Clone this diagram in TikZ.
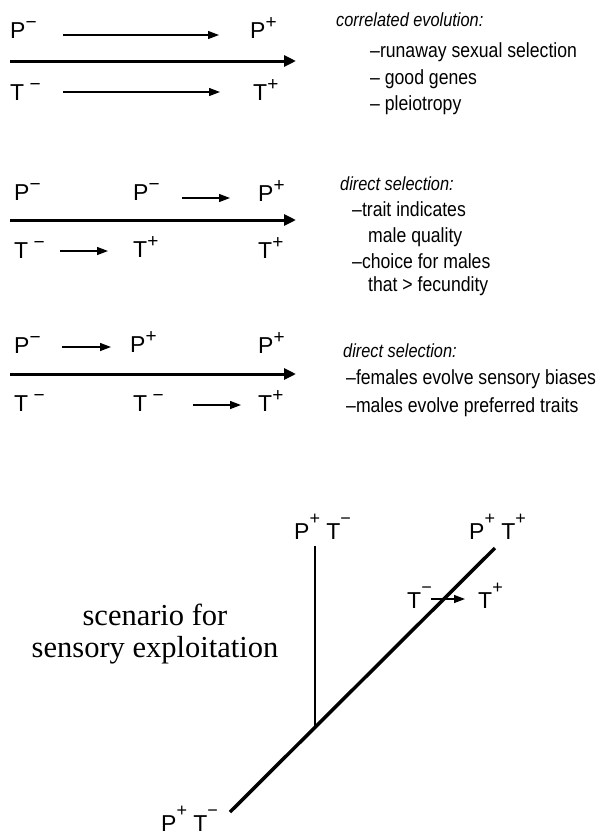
\documentclass[tikz,border=0pt]{standalone}
\usepackage{fontspec}
\usetikzlibrary{arrows.meta}
\newfontfamily\hv[FakeStretch=0.86]{Liberation Sans}
\newfontfamily\hvw{Liberation Sans}
\newfontfamily\tms{Liberation Serif}
\newcommand\hisup[1]{\raisebox{0.42em}{\fontsize{19}{19}\selectfont #1}}
\newcommand\losup[1]{\raisebox{0.62em}{\fontsize{18}{18}\selectfont #1}}
\begin{document}
\begin{tikzpicture}[x=1pt,y=-1pt,
  lab/.style={anchor=base west,inner sep=0pt,font=\hvw\fontsize{23}{24}\selectfont},
  txt/.style={anchor=base west,inner sep=0pt,font=\hv\fontsize{20.5}{22}\selectfont},
  itx/.style={anchor=base west,inner sep=0pt,font=\hv\itshape\fontsize{19}{21}\selectfont},
  small/.style={-{Triangle[length=11pt,width=8pt]},line width=1.3pt},
  main/.style={-{Triangle[length=12pt,width=11pt]},line width=3pt},
  branch/.style={line width=3.5pt},
  stem/.style={line width=2.4pt}]
\useasboundingbox (0,0) rectangle (604,836);
% ---------- panel 1 ----------
\node[lab] (p1a) at (10,38) {P\hisup{−}};
\node[lab] (p1b) at (250,38) {P\hisup{+}};
\node[lab] (t1a) at (10,100) {T\hisup{ −}};
\node[lab] (t1b) at (253,100) {T\hisup{+}};
\coordinate (a1s) at (63,35); \coordinate (a1e) at (219,35);
\coordinate (b1s) at (63,92); \coordinate (b1e) at (220,92);
\coordinate (m1s) at (10,61); \coordinate (m1e) at (296,61);
\draw[small] (a1s) -- (a1e);
\draw[small] (b1s) -- (b1e);
\draw[main] (m1s) -- (m1e);
\node[itx] (h1) at (336,26) {correlated evolution:};
\node[txt] (l11) at (370,57) {–runaway sexual selection};
\node[txt] (l12) at (370,84) {– good genes};
\node[txt] (l13) at (370,110) {– pleiotropy};
% ---------- panel 2 ----------
\node[lab] (p2a) at (14,200) {P\hisup{−}};
\node[lab] (p2b) at (133,200) {P\hisup{−}};
\node[lab] (p2c) at (258,201) {P\hisup{+}};
\node[lab] (t2a) at (14,258) {T\hisup{ −}};
\node[lab] (t2b) at (133,257) {T\hisup{+}};
\node[lab] (t2c) at (258,258) {T\hisup{+}};
\coordinate (a2s) at (182,198); \coordinate (a2e) at (230,198);
\coordinate (b2s) at (60,251); \coordinate (b2e) at (108,251);
\coordinate (m2s) at (10,220); \coordinate (m2e) at (296,220);
\draw[small] (a2s) -- (a2e);
\draw[small] (b2s) -- (b2e);
\draw[main] (m2s) -- (m2e);
\node[itx] (h2) at (340,190) {direct selection:};
\node[txt] (l21) at (352,216) {–trait indicates};
\node[txt] (l22) at (368,242) {male quality};
\node[txt] (l23) at (352,268) {–choice for males};
\node[txt] (l24) at (368,291) {that > fecundity};
% ---------- panel 3 ----------
\node[lab] (p3a) at (14,353) {P\hisup{−}};
\node[lab] (p3b) at (130,352) {P\hisup{+}};
\node[lab] (p3c) at (258,353) {P\hisup{+}};
\node[lab] (t3a) at (14,411) {T\hisup{ −}};
\node[lab] (t3b) at (133,411) {T\hisup{ −}};
\node[lab] (t3c) at (258,411) {T\hisup{+}};
\coordinate (a3s) at (62,347); \coordinate (a3e) at (111,347);
\coordinate (b3s) at (193,405); \coordinate (b3e) at (241,405);
\coordinate (m3s) at (10,374); \coordinate (m3e) at (296,374);
\draw[small] (a3s) -- (a3e);
\draw[small] (b3s) -- (b3e);
\draw[main] (m3s) -- (m3e);
\node[itx] (h3) at (343,357) {direct selection:};
\node[txt] (l31) at (346,384) {–females evolve sensory biases};
\node[txt] (l32) at (346,412) {–males evolve preferred traits};
% ---------- bottom tree ----------
\coordinate (root) at (230,812);
\coordinate (tip) at (495,548);
\coordinate (fork) at (315,727);
\coordinate (top) at (315,546);
\draw[branch] (root) -- (tip);
\draw[stem] (fork) -- (top);
\node[lab] (n1) at (294,539) {P\losup{+} T\losup{−}};
\node[lab] (n2) at (469,539) {P\losup{+} T\losup{+}};
\node[lab] (n3) at (161,831) {P\losup{+} T\losup{−}};
\node[lab] (tm) at (407,608) {T\losup{−}};
\node[lab] (tp) at (478,608) {T\losup{+}};
\coordinate (c1) at (431,599); \coordinate (c2) at (465,599);
\draw[small] (c1) -- (c2);
\node[align=center,inner sep=0pt,font=\tms\fontsize{30.5}{32}\selectfont,anchor=base] (sc) at (155,657) {scenario for\\sensory exploitation};
\end{tikzpicture}
\end{document}
